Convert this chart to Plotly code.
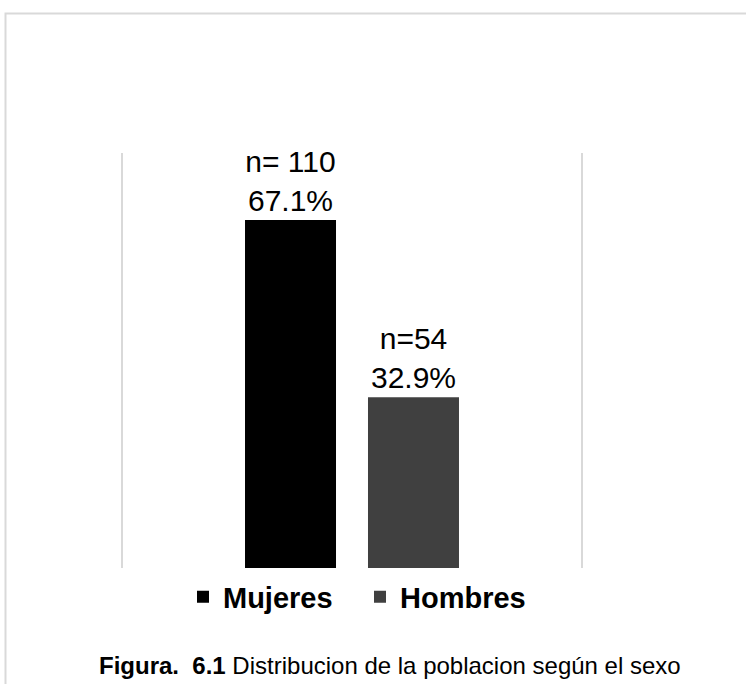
import plotly.graph_objects as go

# ---- data ----
category = ["Sexo"]
series_names = ["Mujeres", "Hombres"]
percentages = [67.1, 32.9]
counts_text = ["n= 110", "n=54"]
pct_text = ["67.1%", "32.9%"]
colors = ["#000000", "#404040"]
caption_bold = "Figura.\u00a0 6.1"
caption_rest = " Distribucion de la poblacion según el sexo"

FONT = "Liberation Sans, Arial, sans-serif"

fig = go.Figure()
for name, val, ct, pt, col in zip(series_names, percentages, counts_text, pct_text, colors):
    fig.add_trace(go.Bar(
        x=category, y=[val], name=f"<b>{name}</b>",
        marker=dict(color=col, line=dict(width=0)),
        text=[f"{ct}<br>{pt}"], textposition="outside",
        constraintext="none",
        textfont=dict(size=30, color="#000000", family=FONT),
        cliponaxis=False,
    ))

W, H = 746, 684
L, R, T, B = 123, 581, 153, 568
pw, ph = R - L, B - T

def px_x(x):
    return (x - L) / pw

def px_y(y):
    return (B - y) / ph

fig.update_layout(
    width=W, height=H,
    margin=dict(l=L, r=W - R, t=T, b=H - B, pad=0),
    paper_bgcolor="white", plot_bgcolor="white",
    barmode="group", bargap=0.463, bargroupgap=0.26,
    font=dict(family=FONT, color="#000000"),
    showlegend=True,
    legend=dict(orientation="h", x=px_x(183), xanchor="left",
                y=px_y(597), yanchor="middle",
                entrywidth=132, entrywidthmode="pixels",
                font=dict(size=29, family=FONT, color="#000000"),
                bgcolor="rgba(0,0,0,0)", traceorder="normal",
                itemclick=False),
    xaxis=dict(showticklabels=False, showline=False, showgrid=False,
               zeroline=False, ticks=""),
    yaxis=dict(range=[0, 80], showticklabels=False, showgrid=False,
               zeroline=False, ticks="", showline=True, mirror=True,
               linecolor="#d9d9d9", linewidth=1.5),
    shapes=[dict(type="rect", xref="paper", yref="paper",
                 x0=px_x(5.5), x1=px_x(770), y0=px_y(13.5), y1=px_y(720),
                 line=dict(color="#d9d9d9", width=2), fillcolor="rgba(0,0,0,0)",
                 layer="below")],
    annotations=[dict(text=f"<b>{caption_bold}</b>{caption_rest}",
                      xref="paper", yref="paper", x=px_x(389.5), y=px_y(665),
                      xanchor="center", yanchor="middle", showarrow=False,
                      font=dict(size=24, family=FONT, color="#000000"))],
)

fig.write_html("out.html")
